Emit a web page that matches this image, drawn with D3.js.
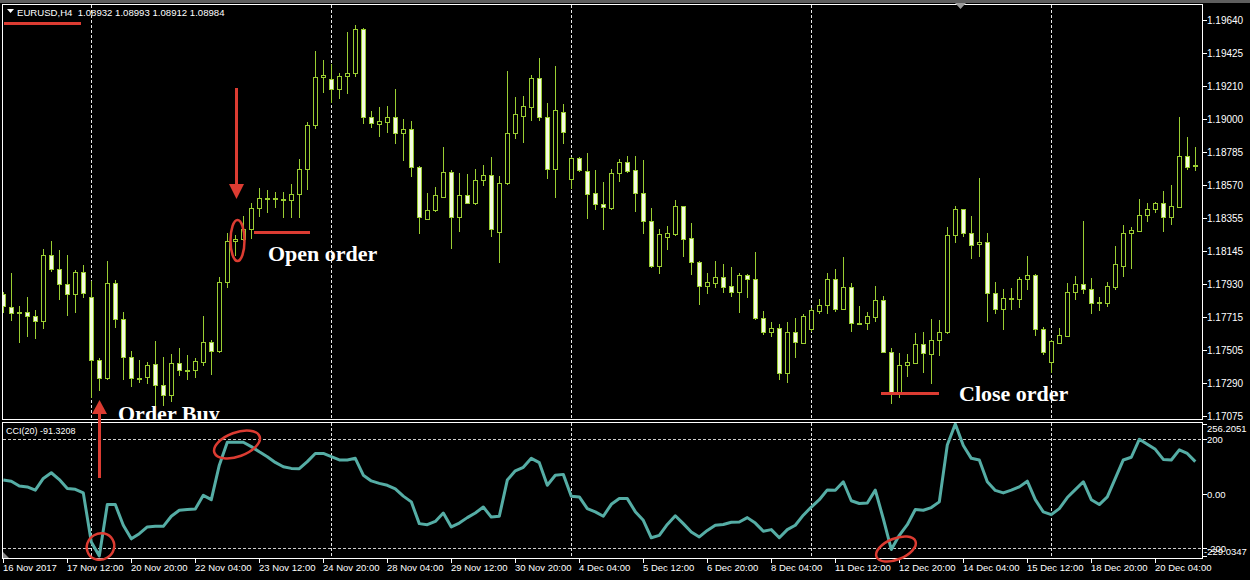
<!DOCTYPE html>
<html><head><meta charset="utf-8">
<script src="https://cdn.jsdelivr.net/npm/d3@7"></script>
<style>html,body{margin:0;padding:0;background:#000;overflow:hidden}svg{display:block}</style>
</head><body>
<svg id="c" width="1250" height="580"></svg>
<script>
const openP=[
1.17866,1.17779,1.17749,1.17747,1.17721,1.17688,1.18116,1.18025,1.17928,1.17863,
1.18006,1.17844,1.17438,1.17324,1.17935,1.17701,1.17460,1.17324,1.17326,1.17410,
1.17276,1.17211,1.17417,1.17376,1.17373,1.17427,1.17552,1.17498,1.17941,1.18207,
1.18220,1.18286,1.18420,1.18483,1.18485,1.18479,1.18474,1.18513,1.18673,1.18960,
1.19269,1.19256,1.19195,1.19277,1.19295,1.19582,1.19014,1.18965,1.18982,1.19010,
1.18906,1.18932,1.18690,1.18353,1.18407,1.18496,1.18654,1.18362,1.18505,1.18457,
1.18602,1.18634,1.18269,1.18582,1.18906,1.19021,1.19079,1.19262,1.19014,1.18677,
1.19046,1.18608,1.18744,1.18664,1.18517,1.18446,1.18422,1.18647,1.18718,1.18666,
1.18517,1.18336,1.18049,1.18237,1.18252,1.18433,1.18226,1.18071,1.17919,1.17939,
1.17973,1.17917,1.17881,1.17986,1.17960,1.17708,1.17622,1.17643,1.17356,1.17617,
1.17550,1.17641,1.17755,1.17792,1.17960,1.17768,1.17909,1.17680,1.17680,1.17719,
1.17824,1.17492,1.17226,1.17403,1.17421,1.17539,1.17479,1.17565,1.17617,1.18245,
1.18414,1.18258,1.18187,1.18200,1.17870,1.17766,1.17833,1.17831,1.17960,1.17986,
1.17641,1.17423,1.17550,1.17596,1.17881,1.17928,1.17896,1.17812,1.17809,1.17913,
1.18049,1.18258,1.18276,1.18377,1.18414,1.18453,1.18366,1.18431,1.18761,1.18699];
const highP=[
1.17881,1.17999,1.17788,1.17844,1.17762,1.18157,1.18209,1.18150,1.18116,1.18021,
1.18051,1.17952,1.17449,1.18079,1.17956,1.17747,1.17496,1.17438,1.17427,1.17563,
1.17455,1.17477,1.17514,1.17470,1.17449,1.17723,1.17568,1.17978,1.18263,1.18245,
1.18371,1.18457,1.18550,1.18539,1.18528,1.18528,1.18578,1.18738,1.18982,1.19442,
1.19381,1.19353,1.19295,1.19565,1.19608,1.19586,1.19051,1.19079,1.19085,1.19193,
1.18999,1.18986,1.18695,1.18522,1.18556,1.18820,1.18669,1.18649,1.18643,1.18675,
1.18701,1.18753,1.18630,1.19310,1.19139,1.19148,1.19284,1.19394,1.19103,1.19342,
1.19094,1.18755,1.18755,1.18781,1.18669,1.18593,1.18675,1.18740,1.18761,1.18761,
1.18733,1.18422,1.18286,1.18306,1.18474,1.18438,1.18328,1.18081,1.17999,1.18079,
1.18060,1.18043,1.17999,1.17995,1.18138,1.17755,1.17682,1.17671,1.17682,1.17712,
1.17734,1.17777,1.17831,1.17999,1.18025,1.18107,1.17935,1.17788,1.17749,1.17917,
1.17853,1.17514,1.17481,1.17475,1.17615,1.17622,1.17701,1.17697,1.18302,1.18435,
1.18418,1.18371,1.18615,1.18258,1.17945,1.17898,1.17902,1.17978,1.18114,1.17993,
1.17650,1.17568,1.17643,1.17939,1.17982,1.18338,1.17967,1.17844,1.17945,1.18176,
1.18312,1.18302,1.18479,1.18457,1.18464,1.18530,1.18571,1.19014,1.18884,1.18820];
const lowP=[
1.17751,1.17697,1.17557,1.17594,1.17583,1.17643,1.18017,1.17831,1.17727,1.17751,
1.17844,1.17201,1.17244,1.17313,1.17654,1.17313,1.17270,1.17298,1.17291,1.17147,
1.17147,1.17172,1.17341,1.17313,1.17330,1.17406,1.17345,1.17492,1.17913,1.18118,
1.18215,1.18226,1.18371,1.18395,1.18431,1.18362,1.18362,1.18366,1.18546,1.18939,
1.19176,1.19111,1.19133,1.19165,1.19277,1.18971,1.18945,1.18889,1.18917,1.18841,
1.18733,1.18632,1.18258,1.18349,1.18403,1.18492,1.18161,1.18276,1.18453,1.18446,
1.18574,1.18243,1.18075,1.18580,1.18878,1.18852,1.18992,1.18992,1.18619,1.18496,
1.18841,1.18550,1.18664,1.18356,1.18416,1.18284,1.18418,1.18600,1.18658,1.18405,
1.18263,1.18038,1.17999,1.18155,1.18248,1.18114,1.17993,1.17799,1.17874,1.17913,
1.17881,1.17855,1.17751,1.17848,1.17701,1.17604,1.17594,1.17313,1.17293,1.17455,
1.17546,1.17628,1.17740,1.17740,1.17758,1.17766,1.17628,1.17669,1.17637,1.17691,
1.17488,1.17162,1.17201,1.17337,1.17417,1.17362,1.17287,1.17470,1.17615,1.18204,
1.18241,1.18096,1.18114,1.17693,1.17740,1.17637,1.17770,1.17783,1.17900,1.17600,
1.17475,1.17358,1.17546,1.17591,1.17831,1.17870,1.17740,1.17762,1.17790,1.17896,
1.17984,1.18036,1.18274,1.18340,1.18399,1.18276,1.18317,1.18427,1.18675,1.18669];
const closeP=[
1.17788,1.17745,1.17745,1.17721,1.17688,1.18116,1.18025,1.17928,1.17863,1.18006,
1.17874,1.17438,1.17324,1.17935,1.17701,1.17460,1.17319,1.17319,1.17403,1.17276,
1.17211,1.17417,1.17373,1.17373,1.17432,1.17552,1.17498,1.17941,1.18209,1.18224,
1.18286,1.18420,1.18485,1.18485,1.18479,1.18474,1.18513,1.18673,1.18960,1.19269,
1.19282,1.19195,1.19277,1.19295,1.19582,1.19014,1.18971,1.18986,1.19010,1.18906,
1.18932,1.18686,1.18362,1.18407,1.18505,1.18654,1.18366,1.18505,1.18457,1.18602,
1.18634,1.18284,1.18582,1.18906,1.19029,1.19085,1.19262,1.19014,1.18677,1.19057,
1.18913,1.18744,1.18669,1.18511,1.18446,1.18427,1.18647,1.18718,1.18664,1.18517,
1.18336,1.18049,1.18252,1.18258,1.18433,1.18224,1.18071,1.17919,1.17941,1.17973,
1.17909,1.17881,1.17986,1.17960,1.17708,1.17622,1.17643,1.17356,1.17617,1.17552,
1.17723,1.17760,1.17792,1.17960,1.17768,1.17909,1.17675,1.17673,1.17723,1.17824,
1.17492,1.17226,1.17403,1.17423,1.17539,1.17481,1.17565,1.17617,1.18245,1.18414,
1.18258,1.18181,1.18200,1.17870,1.17768,1.17837,1.17837,1.17960,1.17986,1.17637,
1.17492,1.17561,1.17600,1.17881,1.17928,1.17896,1.17805,1.17807,1.17917,1.18060,
1.18258,1.18280,1.18377,1.18414,1.18453,1.18366,1.18435,1.18761,1.18690,1.18695];
const cciValues=[
50,46,28,25,13,56,77,52,19,16,
3,-178,-229.03,-40,-40,-116,-166,-147,-122,-120,
-120,-83,-61,-58,-56,-6,-22,105,189,189,
189,173,154,136,115,99,93,92,118,148,
148,136,124,124,130,68,47,38,31,18,
-9,-30,-110,-114,-102,-71,-122,-108,-88,-71,
-49,-86,-83,50,84,97,130,114,31,68,
71,-9,-12,-55,-67,-83,-39,-18,-18,-66,
-98,-162,-153,-113,-81,-110,-141,-159,-135,-116,
-113,-105,-104,-88,-108,-138,-132,-162,-132,-116,
-79,-49,-22,14,13,44,-26,-36,-34,13,
-92,-205,-153,-114,-58,-61,-51,-30,179,256.21,
177,130,124,44,12,3,13,25,46,-22,
-67,-77,-55,-14,15,44,-22,-40,-12,56,
124,134,200,182,163,126,124,161,148,118];
const priceTicks=["1.19640","1.19425","1.19210","1.19000","1.18785","1.18570","1.18355","1.18145","1.17930","1.17715","1.17505","1.17290","1.17075"];
const cciTicks=["256.2051","200","0.00","-200","-229.0347"];
const dateLabels=["16 Nov 2017","17 Nov 12:00","20 Nov 20:00","22 Nov 04:00","23 Nov 12:00","24 Nov 20:00","28 Nov 04:00","29 Nov 12:00","30 Nov 20:00","4 Dec 04:00","5 Dec 12:00","6 Dec 20:00","8 Dec 04:00","11 Dec 12:00","12 Dec 20:00","14 Dec 04:00","15 Dec 12:00","18 Dec 20:00","20 Dec 04:00"];
const barsPerDateLabel=8;
const weekStartBars=[11,41,71,101,131];
const cciLevels=[200,-200];
const headerText="EURUSD,H4  1.08932 1.08993 1.08912 1.08984";
const cciTitle="CCI(20) -91.3208";

const W=1250,H=580;
const L=2.5,R=1202.5,T=4.5,MB=419.5,CT=422.5,CB=558.5;
const GREEN="#9acd32", BEARFILL="#f4fbe0", RED="#dc3c32", CCICOL="#55ada5";
const SANS="'Liberation Sans',Arial,sans-serif", SERIF="'Liberation Serif','Times New Roman',serif";
const n=openP.length;
const x=d3.scaleLinear().domain([0,n-1]).range([3.3,1195.3]);
const y=d3.scaleLinear().domain([1.17075,1.19640]).range([416,20]);
const yc=d3.scaleLinear().domain([-229.0347,256.2051]).range([556,424]);
const px=i=>Math.round(x(i))+0.5;

const svg=d3.select("#c");
const defs=svg.append("defs");
defs.append("clipPath").attr("id","clipMain").append("rect").attr("x",L+0.5).attr("y",T+0.5).attr("width",R-L-1).attr("height",MB-T-1);
defs.append("clipPath").attr("id","clipCci").append("rect").attr("x",L+0.5).attr("y",CT+0.5).attr("width",R-L-1).attr("height",CB-CT-1);

svg.append("rect").attr("width",W).attr("height",H).attr("fill","#000");
svg.append("rect").attr("x",0).attr("y",0).attr("width",W).attr("height",3).attr("fill","#5e5e5e");

// vertical week grid
const gridG=svg.append("g").attr("shape-rendering","crispEdges");
weekStartBars.forEach(b=>{
  gridG.append("line").attr("x1",px(b)).attr("x2",px(b)).attr("y1",T).attr("y2",MB)
    .attr("stroke","#e6e6e6").attr("stroke-dasharray","3,2");
  gridG.append("line").attr("x1",px(b)).attr("x2",px(b)).attr("y1",CT).attr("y2",CB)
    .attr("stroke","#e6e6e6").attr("stroke-dasharray","3,2");
});
// cci levels
cciLevels.forEach(v=>{
  gridG.append("line").attr("x1",L).attr("x2",R).attr("y1",Math.round(yc(v))+0.5).attr("y2",Math.round(yc(v))+0.5)
    .attr("stroke","#cfcfcf").attr("stroke-dasharray","3,2");
});

// candles
const bars=d3.range(n).map(i=>({i,o:openP[i],h:highP[i],l:lowP[i],c:closeP[i]}));
const cg=svg.append("g").attr("clip-path","url(#clipMain)").attr("shape-rendering","crispEdges");
cg.selectAll("line.wick").data(bars).join("line").attr("class","wick")
  .attr("x1",d=>px(d.i)).attr("x2",d=>px(d.i))
  .attr("y1",d=>Math.round(y(d.h))).attr("y2",d=>Math.round(y(d.l))+1)
  .attr("stroke",GREEN);
cg.selectAll("rect.body").data(bars).join("rect").attr("class","body")
  .attr("x",d=>px(d.i)-2).attr("width",4)
  .attr("y",d=>Math.round(y(Math.max(d.o,d.c)))+0.5)
  .attr("height",d=>Math.max(1,Math.round(y(Math.min(d.o,d.c)))-Math.round(y(Math.max(d.o,d.c)))))
  .attr("fill",d=>d.c>=d.o?"#000":BEARFILL)
  .attr("stroke",GREEN);

// CCI line
svg.append("g").attr("clip-path","url(#clipCci)").append("path")
  .datum(cciValues)
  .attr("d",d3.line().x((d,i)=>x(i)).y(d=>yc(d)))
  .attr("fill","none").attr("stroke",CCICOL).attr("stroke-width",3).attr("stroke-linejoin","round");

// borders
const bg=svg.append("g").attr("shape-rendering","crispEdges").attr("fill","none").attr("stroke","#fff");
bg.append("rect").attr("x",L).attr("y",T).attr("width",R-L).attr("height",MB-T);
bg.append("rect").attr("x",L).attr("y",CT).attr("width",R-L).attr("height",CB-CT);

// price axis
const ax=svg.append("g").attr("font-family",SANS).attr("font-size","10px").attr("fill","#fff");
priceTicks.forEach(t=>{
  const yy=Math.round(y(+t))+0.5;
  ax.append("line").attr("x1",R).attr("x2",R+4).attr("y1",yy).attr("y2",yy).attr("stroke","#fff").attr("shape-rendering","crispEdges");
  ax.append("text").attr("x",1207).attr("y",yy).attr("dy","0.35em").text(t);
});
cciTicks.forEach(t=>{
  const v=parseFloat(t);
  const yy=Math.round(yc(v))+0.5;
  ax.append("line").attr("x1",R).attr("x2",R+4).attr("y1",yy).attr("y2",yy).attr("stroke","#fff").attr("shape-rendering","crispEdges");
  const cy=Math.min(Math.max(yy,429),552);
  ax.append("text").attr("x",v<-201?1204:1207).attr("y",cy).attr("dy","0.35em").attr("font-size","9.5px").text(t);
});
// date axis
dateLabels.forEach((t,k)=>{
  const b=k*barsPerDateLabel;
  ax.append("line").attr("x1",px(b)).attr("x2",px(b)).attr("y1",CB).attr("y2",CB+4).attr("stroke","#fff").attr("shape-rendering","crispEdges");
  ax.append("text").attr("x",px(b)-0.5).attr("y",571).attr("font-size","9.5px").text(t);
});

// header
svg.append("path").attr("d","M7,9 L14,9 L10.5,13 Z").attr("fill","#fff");
svg.append("text").attr("x",17).attr("y",16).attr("font-family",SANS).attr("font-size","9.6px").attr("fill","#fff")
  .attr("xml:space","preserve").style("white-space","pre").text(headerText);
svg.append("text").attr("x",6).attr("y",434).attr("font-family",SANS).attr("font-size","9px").attr("fill","#fff").text(cciTitle);
// shift marker
svg.append("path").attr("d","M955,3 L966,3 L960.5,9 Z").attr("fill","#9a9a9a");
svg.append("path").attr("d","M3,552 L3,558 L9,558 Z").attr("fill","#8a8a8a");

// annotations
const an=svg.append("g");
an.append("rect").attr("x",4).attr("y",22).attr("width",77).attr("height",3).attr("fill",RED);
// down arrow
an.append("rect").attr("x",235).attr("y",88).attr("width",3).attr("height",98).attr("fill",RED);
an.append("path").attr("d","M229,184 L244,184 L236.5,199 Z").attr("fill",RED);
an.append("ellipse").attr("cx",237.5).attr("cy",240.5).attr("rx",7).attr("ry",20.5).attr("fill","none").attr("stroke",RED).attr("stroke-width",2.5);
an.append("rect").attr("x",254).attr("y",231).attr("width",56).attr("height",3).attr("fill",RED);
an.append("text").attr("x",268).attr("y",261).attr("font-family",SERIF).attr("font-weight","bold").attr("font-size","22px").attr("fill","#fff").text("Open order");
// close order
an.append("rect").attr("x",881).attr("y",392).attr("width",58).attr("height",3).attr("fill",RED);
an.append("text").attr("x",959).attr("y",401).attr("font-family",SERIF).attr("font-weight","bold").attr("font-size","22px").attr("fill","#fff").text("Close order");
// order buy
svg.append("g").attr("clip-path","url(#clipMain)").append("text").attr("x",118).attr("y",421).attr("font-family",SERIF).attr("font-weight","bold").attr("font-size","22px").attr("fill","#fff").text("Order Buy");
an.append("rect").attr("x",98).attr("y",412).attr("width",3).attr("height",66).attr("fill",RED);
an.append("path").attr("d","M92,414 L107,414 L99.5,400 Z").attr("fill",RED);
// cci ellipses
an.append("ellipse").attr("cx",0).attr("cy",0).attr("rx",14).attr("ry",13).attr("transform","translate(100.5,546.5) rotate(-30)").attr("fill","none").attr("stroke",RED).attr("stroke-width",2.5);
an.append("ellipse").attr("cx",0).attr("cy",0).attr("rx",24).attr("ry",12).attr("transform","translate(237,444.5) rotate(-20)").attr("fill","none").attr("stroke",RED).attr("stroke-width",2.5);
an.append("ellipse").attr("cx",0).attr("cy",0).attr("rx",21).attr("ry",10.5).attr("transform","translate(896,549) rotate(-22)").attr("fill","none").attr("stroke",RED).attr("stroke-width",2.5);
</script>
</body></html>
